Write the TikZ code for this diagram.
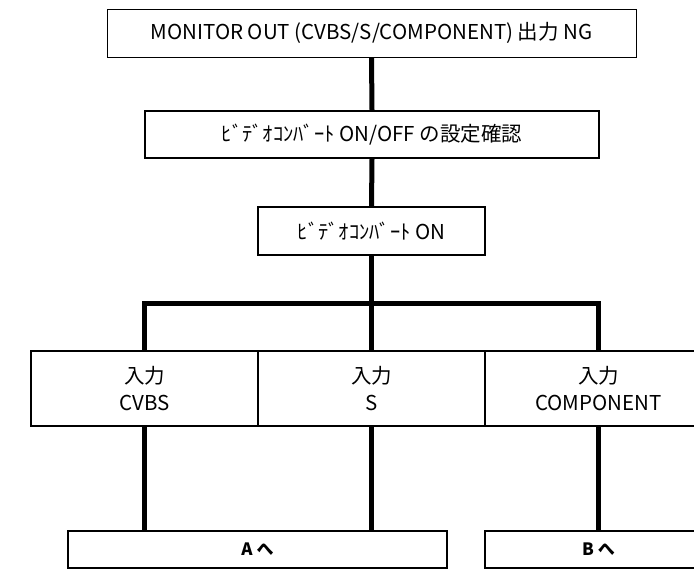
\documentclass[tikz,border=0pt]{standalone}
\usepackage{fontspec}
\setmainfont{Noto Sans CJK JP}
\begin{document}
\begin{tikzpicture}[x=1pt,y=-1pt,
  box/.style={draw=black,rectangle,inner sep=0pt,align=center,font=\fontsize{20.5}{27}\selectfont},
  endbox/.style={box,line width=2pt,minimum height=37pt,font=\fontsize{17}{20}\selectfont\bfseries},
  conn/.style={draw=black,line width=5pt}]
\useasboundingbox (0,0) rectangle (694,574);
\clip (0,0) rectangle (694,574);
\node[box,line width=1pt,minimum width=529pt,minimum height=48pt] (top) at (371.5,33) {MONITOR OUT (CVBS/S/COMPONENT) 出力 NG};
\node[box,line width=2pt,minimum width=454pt,minimum height=47pt] (b2) at (372,134.5) {ﾋﾞﾃﾞｵｺﾝﾊﾞｰﾄ ON/OFF の設定確認};
\node[box,line width=2pt,minimum width=227pt,minimum height=48pt] (b3) at (371.5,231) {ﾋﾞﾃﾞｵｺﾝﾊﾞｰﾄ ON};
\node[box,line width=1.5pt,minimum width=227pt,minimum height=75pt] (r1) at (144.5,388.5) {入力\\CVBS};
\node[box,line width=1.5pt,minimum width=227pt,minimum height=75pt] (r2) at (371.5,388.5) {入力\\S};
\node[box,line width=1.5pt,minimum width=227pt,minimum height=75pt] (r3) at (598.5,388.5) {入力\\COMPONENT};
\node[endbox,minimum width=379pt] (A) at (257.5,549.5) {A へ};
\node[endbox,minimum width=227pt] (B) at (598.5,549.5) {B へ};
\coordinate (bar) at (371.5,303);
\draw[conn] (top.south) -- (b2.north);
\draw[conn] (b2.south) -- (b3.north);
\draw[conn] (b3.south) -- (r2.north);
\draw[conn] (r1.north) -- (r1.north |- bar) -- (r3.north |- bar) -- (r3.north);
\draw[conn] (r1.south) -- (r1.south |- A.north);
\draw[conn] (r2.south) -- (r2.south |- A.north);
\draw[conn] (r3.south) -- (B.north);
\end{tikzpicture}
\end{document}
